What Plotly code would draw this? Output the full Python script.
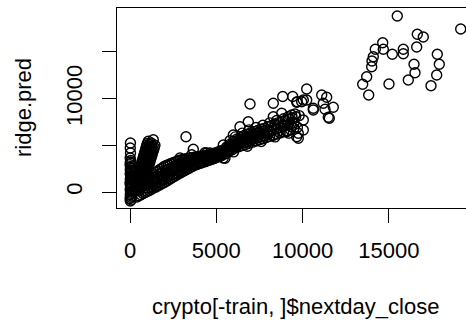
import plotly.graph_objects as go

# Predictions from the ridge model against the next-day close price.

# coins trading close to zero
zero_x = [20, 70, 5, 45, 90, 15, 60, 30, 100, 10, 55, 80, 25, 65, 0, 40, 95, 20,
          70, 35, 85, 10, 50, 75, 15, 60, 30, 90, 5, 45, 20, 40, 10, 30, 15, 25]
zero_y = [-960, -840, -700, -560, -430, -290, -150, -10, 130, 270, 410, 550, 690,
          830, 970, 1110, 1250, 1390, 1530, 1670, 1810, 1950, 2090, 2230, 2370,
          2510, 2650, 2790, 2930, 3070, 3220, 3380, 3640, 4180, 4710, 5250]

# steep run of over-predicted prices just above zero
spike_x = [231, 262, 293, 324, 355, 386, 417, 448, 479, 510, 541, 572, 603, 634,
           665, 696, 727, 758, 789, 820, 851, 882, 913, 944, 975, 1006,
           407, 438, 469, 500, 531, 562, 593, 624, 655, 686, 717, 748, 779, 810,
           841, 872, 903, 934, 965, 996, 1027, 1058, 1089, 1120, 1151,
           537, 568, 599, 630, 661, 692, 723, 754, 785, 816, 847, 878, 909, 940,
           971, 1002, 1033, 1064, 1095, 1126, 1157, 1188, 1219, 1250, 1281,
           950, 991, 1033, 1074, 1115, 1156, 1198, 1239, 1280, 1321, 1363, 1404,
           1445, 1060, 1350, 1230]
spike_y = [200, 400, 600, 800, 1000, 1200, 1400, 1600, 1800, 2000, 2200, 2400,
           2600, 2800, 3000, 3200, 3400, 3600, 3800, 4000, 4200, 4400, 4600, 4800,
           5000, 5200,
           300, 500, 700, 900, 1100, 1300, 1500, 1700, 1900, 2100, 2300, 2500,
           2700, 2900, 3100, 3300, 3500, 3700, 3900, 4100, 4300, 4500, 4700, 4900,
           5100,
           100, 300, 500, 700, 900, 1100, 1300, 1500, 1700, 1900, 2100, 2300, 2500,
           2700, 2900, 3100, 3300, 3500, 3700, 3900, 4100, 4300, 4500, 4700, 4900,
           2000, 2250, 2500, 2750, 3000, 3250, 3500, 3750, 4000, 4250, 4500, 4750,
           5000, 5430, 5600, 5250]

# main band, low prices
band_x = [400, 520, 640, 760, 880, 1000, 1120, 1240, 1360, 1480, 1600, 1720, 1840,
          1960, 2080, 2200, 2320, 2440, 2560, 2680, 2800, 2920, 3040, 3160, 3280,
          3400, 3520, 3640, 3760, 3880, 4000, 4120, 4240, 4360, 4480, 4600, 4720,
          4840, 4960, 5080, 5200, 5320,
          900, 1020, 1140, 1260, 1380, 1500, 1620, 1740, 1860, 1980, 2100, 2220,
          2340, 2460, 2580, 2700, 2820, 2940, 3060, 3180, 3300, 3420, 3540, 3660,
          3780, 3900, 4020, 4140, 4260, 4380, 4500, 4620, 4740, 4860, 4980, 5100,
          5220, 5340,
          960, 1080, 1200, 1320, 1440, 1560, 1680, 1800, 1920, 2040, 2160, 2280,
          2400, 2520, 2640, 2760, 2880, 3000, 3120, 3240, 3360, 3480, 3600,
          1020, 1180, 1340, 1500, 1660, 1820, 1980, 2140, 2300, 2460, 2620, 2780,
          2940, 3100, 3260, 3420, 3580, 3740, 3900, 4060, 4220, 4380, 4540, 4700,
          4860, 5020, 5180, 5340,
          1100, 1260, 1420, 1580, 1740, 1900, 2060, 2220, 2380, 2540, 2700, 2860,
          3020, 3180, 3340, 3500, 3660, 3820, 3980, 4140, 4300, 4460, 4620, 4780,
          4940, 5100, 5260, 5420]
band_y = [-540, -410, -300, -170, -60, 60, 170, 300, 420, 520, 650, 760, 890,
          1000, 1130, 1250, 1400, 1520, 1670, 1790, 1930, 2050, 2180, 2290, 2420,
          2520, 2660, 2760, 2890, 2950, 3040, 3100, 3190, 3250, 3340, 3400, 3490,
          3570, 3660, 3740, 3830, 3910,
          1320, 1490, 1630, 1800, 1940, 2110, 2250, 2420, 2560, 2730, 2840, 2920,
          3020, 3100, 3200, 3280, 3370, 3440, 3490, 3530, 3580, 3620, 3670, 3700,
          3750, 3780, 3820, 3840, 3870, 3900, 3930, 3960, 4040, 4120, 4210, 4290,
          4380, 4460,
          710, 850, 980, 1120, 1260, 1390, 1530, 1670, 1800, 1940, 2050, 2160,
          2270, 2380, 2490, 2610, 2720, 2800, 2880, 2960, 3050, 3130, 3210,
          430, 600, 770, 940, 1110, 1280, 1450, 1610, 1780, 1940, 2100, 2260,
          2420, 2550, 2690, 2820, 2950, 3080, 3180, 3260, 3340, 3430, 3510, 3610,
          3720, 3840, 3950, 4060,
          1130, 1320, 1520, 1710, 1910, 2100, 2300, 2450, 2580, 2720, 2850, 2980,
          3100, 3190, 3270, 3350, 3440, 3520, 3580, 3630, 3690, 3740, 3800, 3880,
          3990, 4100, 4220, 4330]

# main band, mid prices
mid_x = [5500, 5700, 5900, 6100, 6300, 6500, 6700, 6900, 7100, 7300, 7500, 7700,
         7900, 8100, 8300, 8500, 8700, 8900, 9100, 9300, 9500, 9700,
         5600, 5800, 6000, 6200, 6400, 6600, 6800, 7000, 7200, 7400, 7600, 7800,
         8000, 8200, 8400, 8600, 8800, 9000, 9200, 9400, 9600, 9800,
         5500, 5700, 5900, 6100, 6300, 6500, 6700, 6900, 7100, 7300, 7500, 7700,
         7900, 8100, 8300, 8500, 8700, 8900, 9100, 9300, 9500,
         5600, 5800, 6000, 6200, 6400, 6600, 6800, 7000, 7200, 7400, 7600, 7800,
         8000,
         5500, 5700, 5900, 6100, 6300, 6500, 6700, 6900, 7100, 7300, 7500, 7700,
         5800, 6100, 6500, 6900, 7300, 7700, 8100, 8500, 8900,
         6000, 6800, 7600, 8400, 9200]
mid_y = [4080, 4300, 4510, 4720, 4850, 4970, 5090, 5220, 5340, 5460, 5590, 5710,
         5830, 5960, 6080, 6200, 6330, 6450, 6570, 6690, 6820, 6940,
         4820, 5130, 5440, 5670, 5840, 6010, 6190, 6350, 6470, 6590, 6720, 6840,
         6990, 7130, 7280, 7430, 7560, 7690, 7810, 7930, 8060, 8180,
         4380, 4640, 4900, 5150, 5300, 5450, 5600, 5740, 5880, 6000, 6120, 6240,
         6380, 6510, 6640, 6780, 6910, 7040, 7160, 7280, 7410,
         4350, 4590, 4820, 5000, 5140, 5280, 5410, 5540, 5670, 5790, 5910, 6040,
         6170,
         4520, 4810, 5090, 5370, 5530, 5690, 5850, 6010, 6140, 6270, 6390, 6510,
         5500, 5900, 6300, 6650, 6900, 7150, 7400, 7650, 7850,
         4300, 4900, 5400, 5900, 6300]

# scattered points between 3000 and 12000
scat_x = [6953, 8303, 8848, 9427, 9948, 10238, 10238, 9658, 10041, 11107, 11397,
          11200, 11779, 10621, 11298, 11547, 11489, 8790, 8303, 9369, 9172, 9560,
          10041, 10041, 9751, 9658, 9751, 9079, 9369, 8882, 8401, 8303, 6854, 6373,
          5985, 5406, 5023, 5504, 4635, 9693, 10621, 3245, 3668, 3575, 4444, 4925,
          2897, 5406, 4346]
scat_y = [9425, 9500, 10228, 10228, 9671, 11031, 9853, 9607, 9853, 10389, 10142,
          9500, 9071, 8964, 8857, 7893, 8000, 8429, 8065, 8247, 8065, 8354,
          7711, 6640, 6287, 5923, 5751, 6458, 6994, 7176, 7176, 6105, 7529, 6994,
          6105, 5034, 3781, 3609, 4177, 9671, 8782, 5923, 4573, 3995, 4177, 3641,
          3641, 3641, 4209]

# highest prices
high_x = [15487, 19161, 16646, 16994, 14642, 14213, 14676, 15198, 15835, 15835,
          16611, 14097, 14021, 14004, 17805, 16455, 17921, 16513, 17770, 13714,
          13482, 15006, 16125, 17440, 13830]
high_y = [18850, 17457, 16890, 16600, 15990, 15283, 15283, 14748, 15283, 14812,
          15530, 14490, 14030, 13420, 14748, 13676, 13676, 12777, 12531, 12348,
          11535, 11567, 11995, 11385, 10389]

x_vals = zero_x + spike_x + band_x + mid_x + scat_x + high_x
y_vals = zero_y + spike_y + band_y + mid_y + scat_y + high_y

tick_vals = [0, 5000, 10000, 15000]
x_tick_text = ["0", "5000", "10000", "15000"]
y_tick_text = ["0", "", "10000", ""]

font = dict(family="Liberation Sans, Arial, sans-serif", size=22, color="black")

fig = go.Figure(go.Scatter(
    x=x_vals, y=y_vals, mode="markers",
    marker=dict(symbol="circle-open", size=10, color="black", line=dict(width=1.4)),
    hoverinfo="skip",
))

fig.update_layout(
    width=466, height=320,
    margin=dict(l=117, r=0, t=8, b=112),
    paper_bgcolor="white", plot_bgcolor="white",
    showlegend=False,
    font=font,
    xaxis=dict(range=[-753, 19468], tickvals=tick_vals, ticktext=x_tick_text,
               ticks="outside", ticklen=14, tickwidth=1.2, tickcolor="black",
               ticklabelstandoff=8,
               showline=True, linecolor="black", linewidth=1.2, mirror=True,
               showgrid=False, zeroline=False, tickfont=font),
    yaxis=dict(range=[-1714, 19706], tickvals=tick_vals, ticktext=y_tick_text,
               ticks="outside", ticklen=14, tickwidth=1.2, tickcolor="black",
               tickangle=-90, ticklabelstandoff=11,
               showline=True, linecolor="black", linewidth=1.2, mirror=False,
               showgrid=False, zeroline=False, tickfont=font),
    annotations=[
        dict(text="crypto[-train, ]$nextday_close", xref="paper", yref="paper",
             x=0.5115, y=-0.49, xanchor="center", yanchor="middle",
             showarrow=False, font=font),
        dict(text="ridge.pred", xref="paper", yref="paper",
             x=-0.2693, y=0.5, xanchor="center", yanchor="middle",
             textangle=-90, showarrow=False, font=font),
    ],
)

fig.write_html("out.html")
